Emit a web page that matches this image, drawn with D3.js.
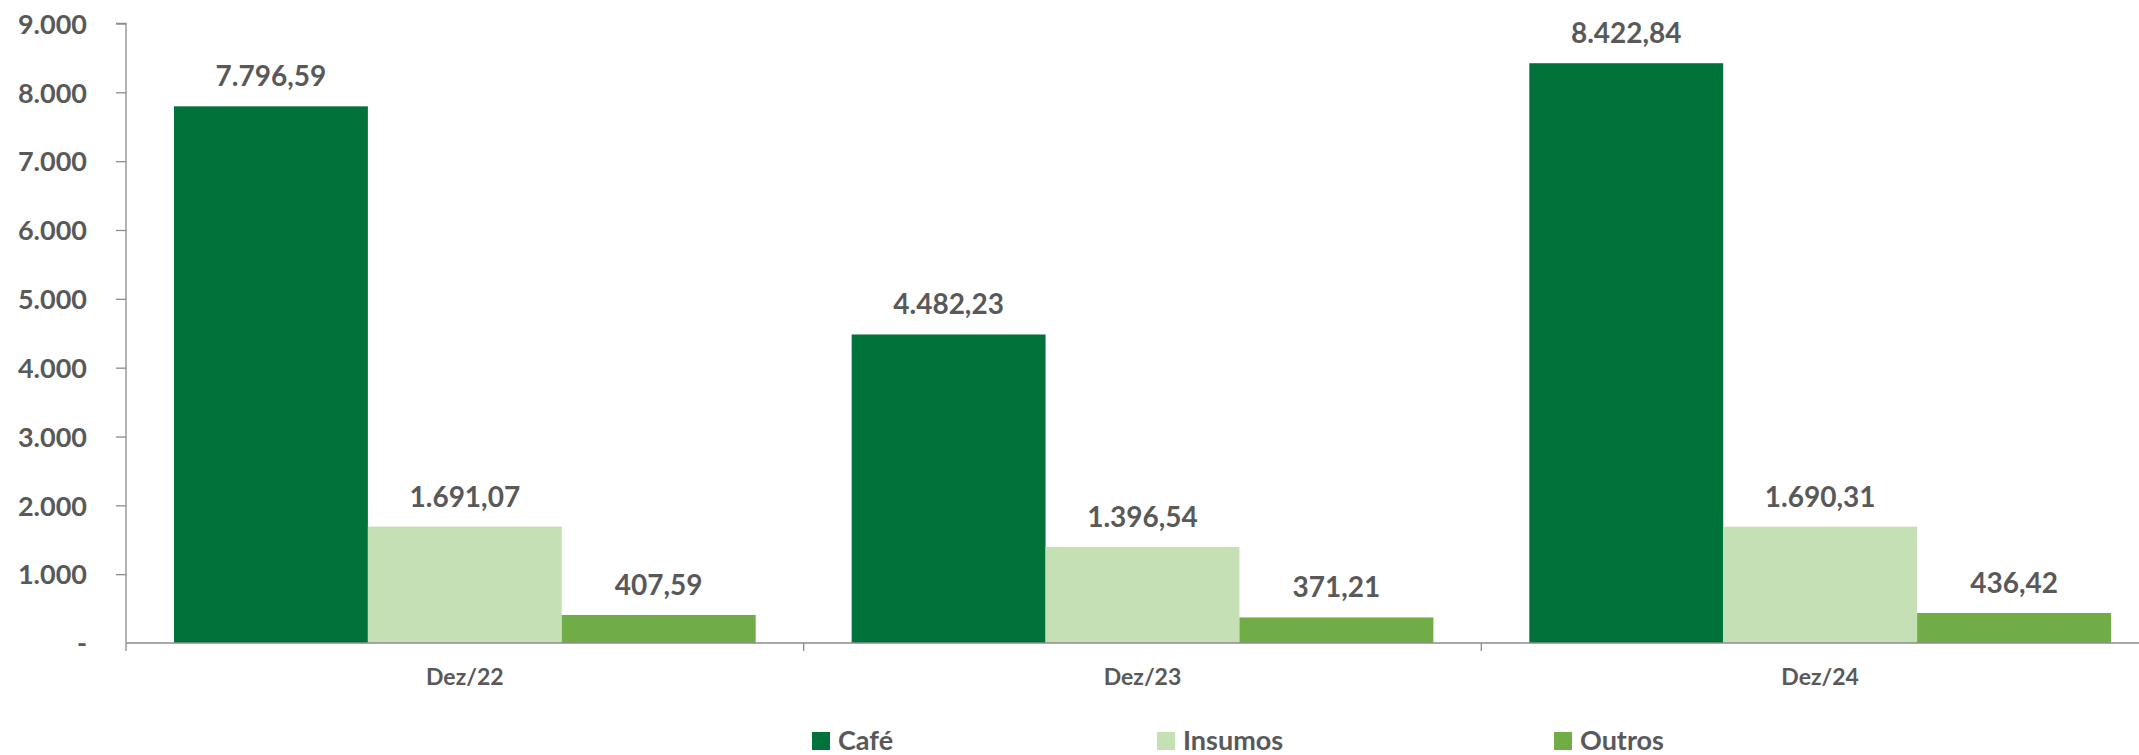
<!DOCTYPE html>
<html>
<head>
<meta charset="utf-8">
<script src="https://cdn.jsdelivr.net/npm/d3@7"></script>
<style>
  html, body { margin: 0; padding: 0; background: #fff; }
  svg { display: block; font-family: Lato, "Open Sans", sans-serif; font-weight: 700; }
</style>
</head>
<body>
<svg id="chart" width="2139" height="755"></svg>
<script>
const categories = ["Dez/22", "Dez/23", "Dez/24"];
const seriesNames = ["Café", "Insumos", "Outros"];
const cafe = [7796.59, 4482.23, 8422.84];
const insumos = [1691.07, 1396.54, 1690.31];
const outros = [407.59, 371.21, 436.42];
const yTicks = [0, 1000, 2000, 3000, 4000, 5000, 6000, 7000, 8000, 9000];
const colors = ["#00723A", "#C5E0B4", "#70AD47"];

(function () {
const seriesValues = [cafe, insumos, outros];
const plotLeft = 126, plotRight = 2159, plotTop = 23.5, plotBottom = 643;
const textColor = "#595959";
const axisColor = "#8C8C8C";

const locale = d3.formatLocale({decimal: ",", thousands: ".", grouping: [3], currency: ["R$", ""]});
const fmtTick = locale.format(",.0f");
const fmtVal = locale.format(",.2f");

const svg = d3.select("#chart");

const y = d3.scaleLinear().domain([0, 9000]).range([plotBottom, plotTop]);
const x0 = d3.scaleBand().domain(categories).range([plotLeft, plotRight]).paddingInner(0).paddingOuter(0);
const gap = x0.bandwidth() * 0.0708;
const x1 = d3.scaleBand().domain(seriesNames).range([gap, x0.bandwidth() - gap]).padding(0);

// Y axis
const yAxis = d3.axisLeft(y).tickValues(yTicks).tickSize(10).tickPadding(29)
  .tickFormat(d => d === 0 ? "-" : fmtTick(d));
const gy = svg.append("g").attr("transform", `translate(${plotLeft},0)`).call(yAxis);
gy.select(".domain").attr("stroke", axisColor).attr("stroke-width", 1.3).attr("d", `M-10,${plotTop}H0V${plotBottom + 8}`);
gy.selectAll(".tick line").attr("stroke", axisColor).attr("stroke-width", 1.3);
gy.selectAll(".tick text").attr("fill", textColor).style("font-size", "27px").style("font-weight", 700)
  .attr("font-family", "Lato, sans-serif").attr("dy", "0.36em");
gy.selectAll(".tick").filter(d => d === 0).select("line").remove();

// Bars
const groups = svg.append("g").selectAll("g").data(categories).join("g")
  .attr("transform", d => `translate(${x0(d)},0)`);

const cellData = (c, i) => seriesNames.map((s, j) => ({s, v: seriesValues[j][i], j}));

groups.selectAll("rect").data(cellData)
  .join("rect")
  .attr("x", d => x1(d.s))
  .attr("width", x1.bandwidth())
  .attr("y", d => y(d.v))
  .attr("height", d => y(0) - y(d.v))
  .attr("fill", d => colors[d.j]);

groups.selectAll("text.val").data(cellData)
  .join("text").attr("class", "val")
  .attr("x", d => x1(d.s) + x1.bandwidth() / 2)
  .attr("y", d => y(d.v) - 20)
  .attr("text-anchor", "middle")
  .attr("fill", textColor)
  .style("font-size", "28px")
  .text(d => fmtVal(d.v));

// X axis
const xAxisG = svg.append("g").attr("transform", `translate(0,${plotBottom})`);
xAxisG.append("line").attr("x1", plotLeft).attr("x2", plotRight).attr("y1", 0).attr("y2", 0)
  .attr("stroke", axisColor).attr("stroke-width", 1.3);
xAxisG.selectAll("line.tick").data(categories)
  .join("line").attr("class", "tick")
  .attr("x1", d => x0(d) + x0.bandwidth())
  .attr("x2", d => x0(d) + x0.bandwidth())
  .attr("y1", 0).attr("y2", 8)
  .attr("stroke", axisColor).attr("stroke-width", 1.3);
xAxisG.selectAll("text").data(categories).join("text")
  .attr("x", d => x0(d) + x0.bandwidth() / 2)
  .attr("y", 42)
  .attr("text-anchor", "middle")
  .attr("fill", textColor)
  .style("font-size", "23px")
  .text(d => d);

// Legend
const legendX = [812, 1157, 1554];
const leg = svg.append("g").selectAll("g").data(seriesNames).join("g")
  .attr("transform", (d, i) => `translate(${legendX[i]},732)`);
leg.append("rect").attr("width", 18).attr("height", 18).attr("fill", (d, i) => colors[i]);
leg.append("text").attr("x", 26).attr("y", 18).attr("fill", textColor)
  .style("font-size", "27px").text(d => d);
})();
</script>
</body>
</html>
